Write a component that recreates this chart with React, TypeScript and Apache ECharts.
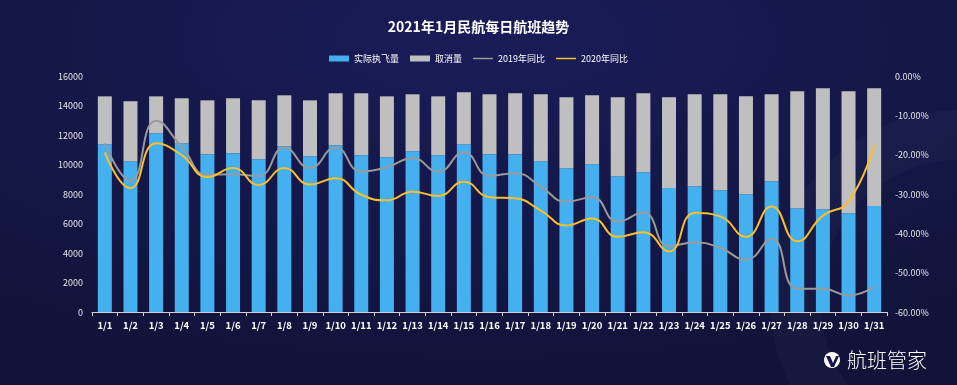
import React, { useEffect, useRef } from "react";
import * as echarts from "echarts";

const categories = ["1/1","1/2","1/3","1/4","1/5","1/6","1/7","1/8","1/9","1/10","1/11","1/12","1/13","1/14","1/15","1/16","1/17","1/18","1/19","1/20","1/21","1/22","1/23","1/24","1/25","1/26","1/27","1/28","1/29","1/30","1/31"];
const actualFlights = [11370,10220,12120,11440,10700,10770,10360,11240,10560,11310,10630,10490,10900,10630,11370,10700,10700,10220,9750,10020,9210,9480,8400,8530,8260,7990,8870,7040,6970,6700,7180];
const totalFlights = [14620,14290,14620,14490,14350,14490,14350,14690,14350,14830,14830,14620,14760,14620,14900,14760,14830,14760,14560,14690,14560,14830,14560,14760,14760,14620,14760,14960,15170,14960,15170];
const cancelledFlights = totalFlights.map((t, i) => t - actualFlights[i]);
const yoy2019 = [-17.1,-26.6,-11.4,-18.0,-25.1,-25.0,-25.4,-18.2,-23.4,-18.2,-24.3,-23.2,-20.9,-24.3,-19.4,-25.4,-24.7,-28.1,-32.0,-30.8,-37.0,-34.7,-43.3,-42.3,-43.7,-46.7,-41.4,-54.1,-54.1,-55.8,-53.6];
const yoy2020 = [-19.4,-28.5,-17.1,-20.1,-25.7,-23.4,-27.7,-23.4,-27.6,-26.0,-30.2,-31.6,-29.4,-30.5,-26.9,-30.8,-31.1,-34.2,-38.0,-36.2,-40.9,-39.7,-44.6,-34.8,-35.7,-40.9,-33.2,-42.0,-35.5,-31.9,-17.5];
const seriesNames = ["实际执飞量", "取消量", "2019年同比", "2020年同比"];

const FONT = "'Noto Sans CJK SC', 'Noto Sans', sans-serif";
const LINE_ICON = "path://M0,0 L40,0 L40,3 L0,3 Z";

export default function App() {
  const ref = useRef<HTMLDivElement>(null);
  useEffect(() => {
    if (!ref.current) return;
    const chart = echarts.init(ref.current, undefined, { renderer: "svg" });
    chart.setOption({
      animation: false,
      backgroundColor: {
        type: "radial", x: 0.5, y: 0.1, r: 0.9,
        colorStops: [
          { offset: 0, color: "#1a1c59" },
          { offset: 1, color: "#111339" },
        ],
      },
      textStyle: { fontFamily: FONT },
      title: {
        text: "2021年1月民航每日航班趋势",
        left: "center",
        top: 14,
        textStyle: { color: "#ffffff", fontSize: 14, fontWeight: "bold", fontFamily: FONT },
      },
      legend: {
        top: 49,
        left: "center",
        itemGap: 11,
        itemWidth: 20,
        itemHeight: 6,
        textStyle: { color: "#ffffff", fontSize: 9, fontFamily: FONT },
        data: [
          { name: seriesNames[0], icon: "rect" },
          { name: seriesNames[1], icon: "rect" },
          { name: seriesNames[2], icon: LINE_ICON },
          { name: seriesNames[3], icon: LINE_ICON },
        ],
      },
      grid: { left: 92, right: 70, top: 76, bottom: 73 },
      xAxis: {
        type: "category",
        data: categories,
        axisLine: { lineStyle: { color: "#d0d0d0" } },
        axisTick: { show: true, length: 4, lineStyle: { color: "#d0d0d0" } },
        axisLabel: { color: "#ffffff", fontSize: 9.5, interval: 0, fontWeight: "bold", margin: 8 },
      },
      yAxis: [
        {
          type: "value", min: 0, max: 16000, interval: 2000,
          splitLine: { show: false },
          axisLine: { show: false }, axisTick: { show: false },
          axisLabel: { color: "#e6e6e6", fontSize: 9, margin: 9, formatter: (v: number) => String(v) },
        },
        {
          type: "value", min: -60, max: 0, interval: 10,
          splitLine: { show: false },
          axisLine: { show: false }, axisTick: { show: false },
          axisLabel: { color: "#e6e6e6", fontSize: 9, margin: 8, formatter: (v: number) => v.toFixed(2) + "%" },
        },
      ],
      series: [
        {
          name: seriesNames[0], type: "bar", stack: "f", data: actualFlights, barWidth: 14,
          itemStyle: { color: "#45b0f0" },
        },
        {
          name: seriesNames[1], type: "bar", stack: "f", data: cancelledFlights, barWidth: 14,
          itemStyle: { color: "#bfbfbf" },
        },
        {
          name: seriesNames[2], type: "line", yAxisIndex: 1, data: yoy2019, smooth: 0.5,
          showSymbol: false, symbol: "none",
          lineStyle: { color: "#9a9a9a", width: 2 }, itemStyle: { color: "#9a9a9a" },
        },
        {
          name: seriesNames[3], type: "line", yAxisIndex: 1, data: yoy2020, smooth: 0.5,
          showSymbol: false, symbol: "none",
          lineStyle: { color: "#f9bf2c", width: 2 }, itemStyle: { color: "#f9bf2c" },
        },
      ],
      graphic: [
        {
          type: "ring", z: -10, silent: true,
          shape: { cx: 960, cy: 300, r: 190, r0: 140 },
          style: { fill: "rgba(255,255,255,0.025)" },
        },
        {
          type: "circle", silent: true,
          shape: { cx: 832, cy: 360, r: 8 },
          style: { fill: "#ffffff" },
        },
        {
          type: "polygon", silent: true,
          shape: { points: [[826, 356], [830, 356], [833, 363], [836, 356], [839, 356], [834, 367], [831, 367]] },
          style: { fill: "#151748" },
        },
        {
          type: "text", left: 847, top: 349,
          style: { text: "航班管家", fill: "#ffffff", fontSize: 20, fontWeight: 300, fontFamily: FONT },
        },
      ],
    });
    return () => chart.dispose();
  }, []);
  return <div ref={ref} style={{ position: "fixed", left: 0, top: 0, width: 957, height: 385 }} />;
}
